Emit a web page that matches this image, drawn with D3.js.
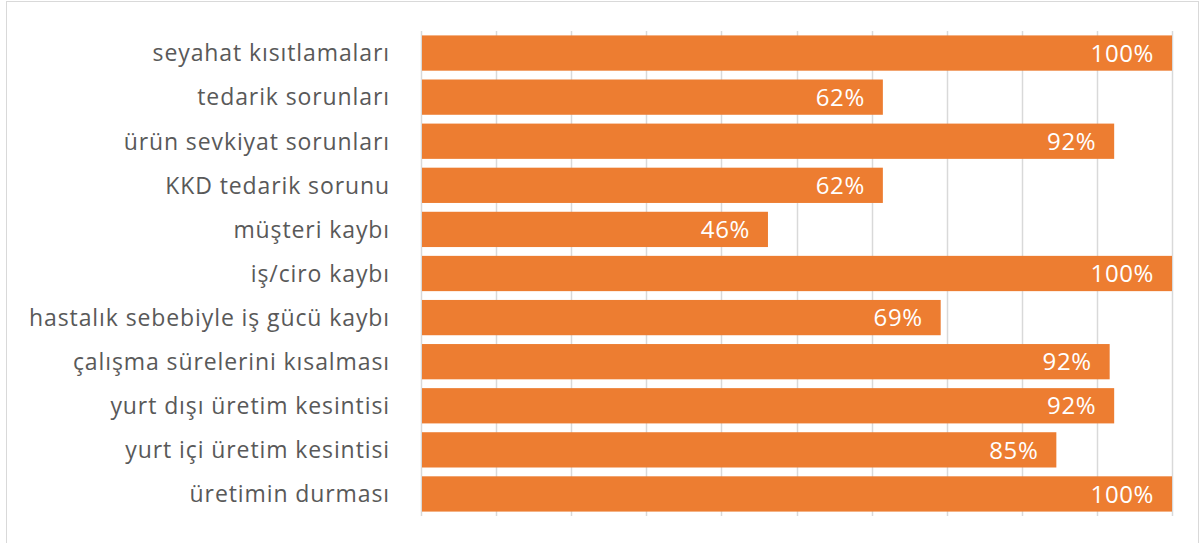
<!DOCTYPE html>
<html>
<head>
<meta charset="utf-8">
<script src="https://cdn.jsdelivr.net/npm/d3@7"></script>
<style>
  body { margin: 0; background: #fff; }
  text { font-family: "Open Sans", "Noto Sans", sans-serif; }
</style>
</head>
<body>
<svg class="chart"></svg>
<script>
var categories = ["seyahat kısıtlamaları", "tedarik sorunları", "ürün sevkiyat sorunları",
    "KKD tedarik sorunu", "müşteri kaybı", "iş/ciro kaybı", "hastalık sebebiyle iş gücü kaybı",
    "çalışma sürelerini kısalması", "yurt dışı üretim kesintisi", "yurt içi üretim kesintisi",
    "üretimin durması"];
var values = [100, 61.5, 92.3, 61.5, 46.2, 100, 69.2, 91.7, 92.3, 84.6, 100];
var ticks = [0, 10, 20, 30, 40, 50, 60, 70, 80, 90, 100];

function show() {
    'use strict';
    var W = 1203, H = 543;
    var margin = {top: 31, bottom: 27, left: 421, right: 31},
        width = W - margin.left - margin.right,
        height = H - margin.top - margin.bottom;

    var root = d3.select(".chart").attr("width", W).attr("height", H);

    // chart frame
    root.append("rect")
        .attr("x", 6.5).attr("y", 1.5)
        .attr("width", 1192).attr("height", 545)
        .attr("fill", "none").attr("stroke", "#d9d9d9");

    var svg = root.append("g")
        .attr("transform", "translate(" + margin.left + "," + margin.top + ")");

    var x = d3.scaleLinear().domain([0, 100]).range([0, width]);
    var y = d3.scaleBand().domain(categories).range([0, height]).paddingInner(0.2).paddingOuter(0.1);

    svg.append("g").selectAll("line").data(ticks).enter()
        .append("line")
        .attr("x1", function (d) { return Math.round(x(d)) + 0.5; })
        .attr("x2", function (d) { return Math.round(x(d)) + 0.5; })
        .attr("y1", 0).attr("y2", height)
        .attr("stroke", "#d9d9d9").attr("stroke-width", 1.5);

    svg.selectAll("rect.bar").data(values).enter()
        .append("rect").attr("class", "bar")
        .attr("x", x(0) + 1)
        .attr("y", function (d, i) { return y(categories[i]); })
        .attr("width", function (d) { return x(d) - 1; })
        .attr("height", y.bandwidth())
        .attr("fill", "#ed7d31");

    svg.selectAll("text.val").data(values).enter()
        .append("text").attr("class", "val")
        .attr("x", function (d) { return x(d) - 18; })
        .attr("y", function (d, i) { return y(categories[i]) + y.bandwidth() / 2; })
        .attr("dy", "0.36em")
        .attr("text-anchor", "end")
        .attr("fill", "#fff")
        .style("font-size", "24px")
        .style("letter-spacing", "0.6px")
        .text(function (d) { return Math.round(d) + "%"; });

    svg.selectAll("text.cat").data(categories).enter()
        .append("text").attr("class", "cat")
        .attr("x", -31)
        .attr("y", function (d) { return y(d) + y.bandwidth() / 2; })
        .attr("dy", "0.36em")
        .attr("text-anchor", "end")
        .attr("fill", "#595959")
        .style("font-size", "23px")
        .style("letter-spacing", "0.9px")
        .text(function (d) { return d; });
}
show();
</script>
</body>
</html>
